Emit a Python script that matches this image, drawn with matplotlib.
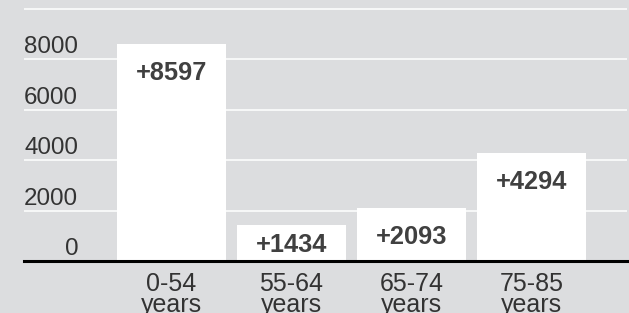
import matplotlib
matplotlib.use('Agg')
import matplotlib.pyplot as plt

# ── Data ──────────────────────────────────────────────────────────────────────
age_ranges = ['0-54', '55-64', '65-74', '75-85']
age_unit = 'years'
increase = [8597, 1434, 2093, 4294]
y_ticks = [0, 2000, 4000, 6000, 8000]
grid_lines = [2000, 4000, 6000, 8000, 10000]

bg = '#dcdddf'
plt.rcParams['font.family'] = ['Liberation Sans', 'DejaVu Sans']

# ── Plot ──────────────────────────────────────────────────────────────────────
fig = plt.figure(figsize=(6.29, 3.13), dpi=100, facecolor=bg)
ax = fig.add_axes([24 / 629, 52 / 313, 603 / 629, 261 / 313])
ax.set_facecolor(bg)
ymax = 10357
px_per_unit = 261 / ymax

x = list(range(len(increase)))
ax.bar(x, increase, width=0.908, color='white', zorder=2)

# white grid lines
for g in grid_lines:
    ax.axhline(g, color='white', lw=1.1, zorder=1)
# baseline
ax.axhline(0, color='black', lw=2.2, zorder=3, clip_on=False)

# value labels inside bar tops (centred in short bars)
for xi, v in zip(x, increase):
    drop = min(27, 0.5 * v * px_per_unit) + 9
    ax.annotate(f'+{v}', xy=(xi, v), xytext=(0, -drop), textcoords='offset pixels',
                ha='center', va='baseline', fontsize=18.3, fontweight='bold',
                color='#404040', zorder=4)

# y labels sitting above grid lines
for t in y_ticks:
    ax.annotate(f'{t}', xy=(0.0896, t), xycoords=ax.get_yaxis_transform(),
                xytext=(0, 6), textcoords='offset pixels',
                ha='right', va='baseline', fontsize=17.4, color='#333333')

# two-line category labels under the baseline
for xi, lab in zip(x, age_ranges):
    ax.annotate(lab, xy=(xi, 0), xytext=(0, -30), textcoords='offset pixels',
                ha='center', va='baseline', fontsize=18, color='#333333',
                annotation_clip=False)
    ax.annotate(age_unit, xy=(xi, 0), xytext=(0, -51), textcoords='offset pixels',
                ha='center', va='baseline', fontsize=18, color='#333333',
                annotation_clip=False)

ax.set_xlim(-1.229, 3.796)
ax.set_ylim(0, ymax)
ax.set_xticks([])
ax.set_yticks([])
for s in ax.spines.values():
    s.set_visible(False)

plt.savefig('out.png', dpi=100, facecolor=bg)
